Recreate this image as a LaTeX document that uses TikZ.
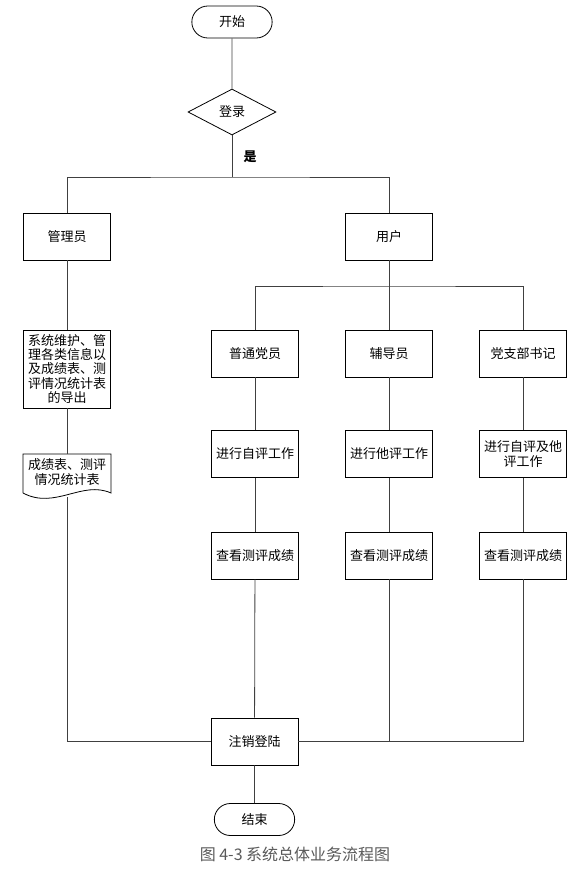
\documentclass[tikz,border=0pt]{standalone}
\usepackage{fontspec}
\setmainfont{Noto Sans CJK SC}
\usetikzlibrary{
    shapes.geometric,
    shapes.misc,
    positioning,
    calc
}

\begin{document}
\begin{tikzpicture}[
        x=1pt, y=-1pt,
        term/.style={rounded rectangle, draw, minimum width=87pt, minimum height=32pt, font=\fontsize{13}{14}\selectfont},
        box/.style={rectangle, draw, minimum width=87pt, minimum height=47pt, align=center, inner sep=2pt, font=\fontsize{13}{14.2}\selectfont},
        dec/.style={diamond, draw, aspect=1.9, minimum width=88pt, minimum height=46pt, inner sep=0pt, font=\fontsize{13}{14}\selectfont},
        link/.style={draw=black!75, line width=0.8pt}
    ]
        \useasboundingbox (0,0) rectangle (588,875);

        \node[term, line width=0.8pt] (start) at (232,22) {开始};
        \node[dec, line width=0.8pt] (login) at (232,112) {登录};
        \node[font=\fontsize{13}{14}\selectfont\bfseries] (yes) at (250,157) {是};
        \coordinate (split) at (232,177);

        \node[box, line width=0.8pt] (admin) at (67,236.5) {管理员};
        \node[box, line width=0.8pt] (user) at (389,236.5) {用户};
        \coordinate (ubus) at (389,286);

        \node[box, line width=0.8pt, minimum height=78pt] (maint) at (67,369) {系统维护、管\\理各类信息以\\及成绩表、测\\评情况统计表\\的导出};
        \node[box, draw=none, minimum height=36pt] (docu) at (67,472) {成绩表、测评\\情况统计表};
        \draw[line width=0.8pt] (23,493) -- (23,454) -- (111,454) -- (111,493)
            .. controls (82,480) and (55,510) .. (23,493);
        \coordinate (docbot) at (67,497);

        \node[box, line width=0.8pt] (p1) at (255,353.5) {普通党员};
        \node[box, line width=0.8pt] (p2) at (389,353.5) {辅导员};
        \node[box, line width=0.8pt] (p3) at (523,353.5) {党支部书记};

        \node[box, line width=0.8pt] (q1) at (255,454) {进行自评工作};
        \node[box, line width=0.8pt] (q2) at (389,454) {进行他评工作};
        \node[box, line width=0.8pt] (q3) at (523,454) {进行自评及他\\评工作};

        \node[box, line width=0.8pt] (r1) at (255,555.5) {查看测评成绩};
        \node[box, line width=0.8pt] (r2) at (389,555.5) {查看测评成绩};
        \node[box, line width=0.8pt] (r3) at (523,555.5) {查看测评成绩};

        \node[box, line width=0.8pt] (logout) at (254.5,741.5) {注销登陆};
        \node[term, line width=0.8pt] (end) at (254.5,819.5) {结束};

        \node[text=black!65, font=\fontsize{16}{18}\selectfont] (caption) at (295,854) {图 4-3 系统总体业务流程图};

        \draw[link] (start) -- (login);
        \draw[link] (login) -- (split);
        \draw[link] (admin.north) |- (split) -| (user.north);
        \draw[link] (admin) -- (maint);
        \draw[link] (maint.south) -- (67,454);
        \draw[link] (docbot) |- (logout.west);
        \draw[link] (user) -- (ubus);
        \draw[link] (p1.north) |- (ubus) -| (p3.north);
        \draw[link] (ubus) -- (p2);
        \draw[link] (p1) -- (q1);
        \draw[link] (q1) -- (r1);
        \draw[link] (r1) -- (logout);
        \draw[link] (p2) -- (q2);
        \draw[link] (q2) -- (r2);
        \draw[link] (r2.south) -- (r2.south |- logout.east);
        \draw[link] (p3) -- (q3);
        \draw[link] (q3) -- (r3);
        \draw[link] (r3.south) |- (logout.east);
        \draw[link] (logout) -- (end);
    \end{tikzpicture}
\end{document}
